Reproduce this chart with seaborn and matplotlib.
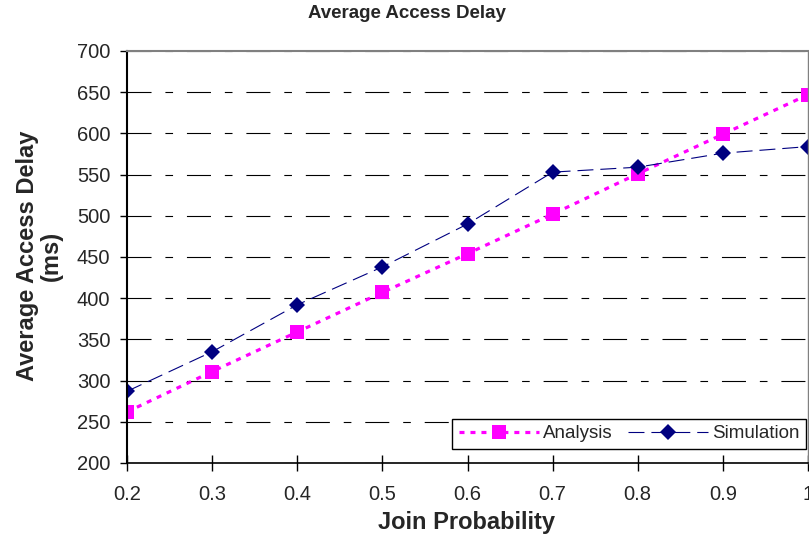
import matplotlib
matplotlib.use('Agg')
import matplotlib.pyplot as plt
import seaborn as sns
import pandas as pd

join_prob = [0.2, 0.3, 0.4, 0.5, 0.6, 0.7, 0.8, 0.9, 1.0]
analysis = [262, 311, 359, 407, 454, 502, 551, 599, 647]
simulation = [287, 335, 392, 438, 490, 553, 559, 576, 584]
y_ticks = [200, 250, 300, 350, 400, 450, 500, 550, 600, 650, 700]
x_ticks = [0.2, 0.3, 0.4, 0.5, 0.6, 0.7, 0.8, 0.9, 1.0]
x_labels = ['0.2', '0.3', '0.4', '0.5', '0.6', '0.7', '0.8', '0.9', '1']

sns.set_style('white')
plt.rcParams['font.family'] = ['Liberation Sans', 'DejaVu Sans']
plt.rcParams['lines.scale_dashes'] = False

df = pd.DataFrame({'p': join_prob, 'Analysis': analysis, 'Simulation': simulation})

fig = plt.figure(figsize=(8.09, 5.41), dpi=100)
ax = fig.add_axes([127 / 809, 78 / 541, 681 / 809, 412 / 541])

sns.lineplot(data=df, x='p', y='Analysis', ax=ax, color='#FF00FF', marker='s',
             markersize=10, markeredgewidth=0, linewidth=2.3,
             linestyle=(0, (3.6, 4.3)), label='Analysis')
sns.lineplot(data=df, x='p', y='Simulation', ax=ax, color='#000080', marker='D',
             markersize=8.5, markeredgewidth=0, linewidth=0.8,
             linestyle=(0, (11.5, 5)), label='Simulation')

ax.set_xlim(0.2, 1.0)
ax.set_ylim(200, 700)
ax.set_yticks(y_ticks)
ax.set_xticks(x_ticks)
ax.set_xticklabels(x_labels)
ax.yaxis.grid(True, color='black', linewidth=0.8, linestyle=(0, (17.3, 10, 5.5, 10)))
ax.xaxis.grid(False)
ax.set_axisbelow(True)

ax.tick_params(axis='y', direction='out', length=5, width=1, pad=7, labelsize=14.5,
               left=True, color='black')
ax.tick_params(axis='x', direction='inout', length=11, width=1, pad=10, labelsize=14.5,
               bottom=True, color='black')

ax.spines['left'].set_color('black')
ax.spines['left'].set_linewidth(1.5)
ax.spines['bottom'].set_color('black')
ax.spines['bottom'].set_linewidth(1.2)
ax.spines['top'].set_color('#808080')
ax.spines['top'].set_linewidth(1.5)
ax.spines['right'].set_color('#808080')
ax.spines['right'].set_linewidth(1)

ax.set_xlabel('')
ax.set_ylabel('')

fig.text(407 / 809, 1 - 14 / 541, 'Average Access Delay', ha='center', va='center',
         fontsize=13.5, fontweight='bold')
fig.text(467 / 809, 1 - 523 / 541, 'Join Probability', ha='center', va='center',
         fontsize=17, fontweight='bold')
fig.text(39 / 809, 1 - 256 / 541, 'Average Access Delay\n(ms)', ha='center', va='center',
         rotation=90, fontsize=17, fontweight='bold', multialignment='center',
         linespacing=1.05)

leg = ax.legend(loc='lower right', bbox_to_anchor=(0.997, 0.034), ncol=2, fontsize=13.5,
                frameon=True, fancybox=False, framealpha=1, edgecolor='black',
                borderpad=0.35, handlelength=4.3, handletextpad=0.2, columnspacing=0.8,
                borderaxespad=0)
leg.get_frame().set_linewidth(1)

fig.savefig('out.png', dpi=100)
